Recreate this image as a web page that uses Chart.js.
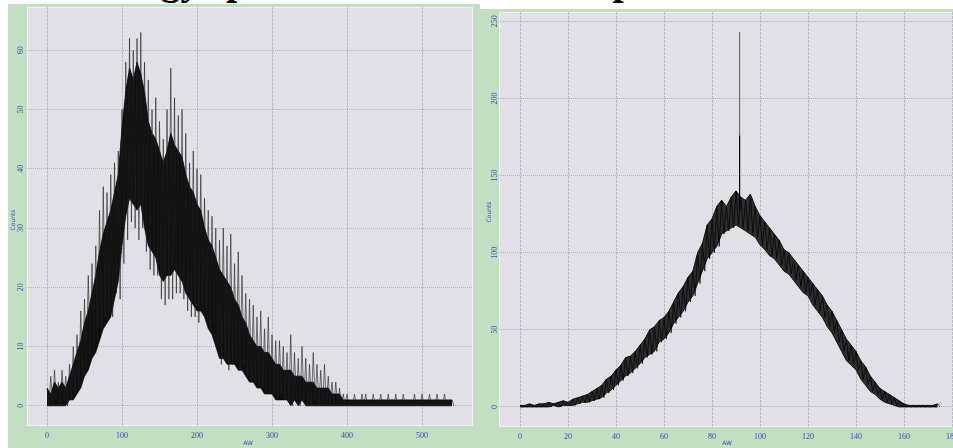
<!DOCTYPE html>
<html>
<head>
<meta charset="utf-8">
<script src="https://cdn.jsdelivr.net/npm/chart.js@4/dist/chart.umd.min.js"></script>
<style>
  html, body { margin: 0; padding: 0; background: #fff; }
  body { width: 953px; height: 448px; overflow: hidden; position: relative; }
  .title { position: absolute; top: -39px; font: bold 40px "Liberation Serif", serif; line-height: 40px; color: #000; white-space: nowrap; }
  .panel { position: absolute; background: #c3dec3; overflow: hidden; }
  #leftPanel { left: 8px; top: 4px; width: 472px; height: 444px; }
  #rightPanel { left: 480px; top: 9px; width: 473px; height: 439px; }
  canvas { position: absolute; left: 0; top: 0; }
</style>
</head>
<body>
<div class="title" style="left:76px">Energy spectrum</div>
<div class="title" style="left:597px">spectrum</div>
<div class="title" style="left:790px">Q</div>
<div class="panel" id="leftPanel"><canvas id="leftChart" width="472" height="444"></canvas></div>
<div class="panel" id="rightPanel"><canvas id="rightChart" width="505" height="439"></canvas></div>
<script>
// 左圖：每 5 AW 一格
const leftStep = 5;
// 尖峰的上緣 / 下緣 (灰色細線)
const leftHi = [3,5,6,4,6,5,7,10,12,16,18,22,24,27,33,37,36,39,41,43,
  50,58,62,60,62,63,58,55,50,52,48,45,50,57,52,49,50,46,41,43,
  40,39,35,33,32,30,28,30,27,29,24,26,22,19,18,17,15,16,13,15,
  12,11,11,10,9,12,9,8,10,8,7,9,7,6,7,5,4,4,3,2,
  2,1,2,1,2,2,1,2,1,2,1,2,1,2,1,2,1,1,2,1,
  2,1,2,1,2,1,2,1,1];
const leftLo = [0,0,1,0,1,0,1,2,3,5,7,8,10,11,13,15,16,15,19,18,
  24,28,31,30,28,30,26,23,22,22,18,17,18,18,19,19,18,16,15,15,
  14,17,16,13,14,10,7,8,6,7,8,6,7,5,4,4,3,3,2,2,
  2,1,2,1,1,0,1,0,1,0,0,1,0,0,0,0,0,0,0,0,
  0,0,0,0,0,0,0,0,0,0,0,0,0,0,0,0,0,0,0,0,
  0,0,0,0,0,0,0,0,0];
// 密集的黑色主體
const leftCoreHi = [3,2,4,3,4,3,5,7,9,11,14,16,19,22,26,29,31,33,36,39,
  47,53,57,55,58,56,53,48,46,45,43,41,43,46,44,43,42,39,37,36,
  34,33,30,28,27,25,23,22,21,20,18,17,15,14,12,11,10,10,9,9,
  8,7,7,6,6,6,5,5,5,4,4,4,3,3,3,3,2,2,2,1,
  1,1,1,1,1,1,1,1,1,1,1,1,1,1,1,1,1,1,1,1,
  1,1,1,1,1,1,1,1,1];
const leftCoreLo = [0,0,0,0,0,0,1,1,2,3,5,6,8,9,11,13,14,15,18,21,
  27,32,35,34,33,34,30,27,26,25,22,21,22,22,23,22,21,19,18,17,
  16,16,15,13,12,10,8,8,7,7,7,6,6,5,4,4,3,3,2,2,
  2,1,1,1,1,0,1,0,1,0,0,0,0,0,0,0,0,0,0,0,
  0,0,0,0,0,0,0,0,0,0,0,0,0,0,0,0,0,0,0,0,
  0,0,0,0,0,0,0,0,0];
const leftXTicks = [0, 100, 200, 300, 400, 500];
const leftYTicks = [0, 10, 20, 30, 40, 50, 60];

// 右圖：每 2 AW 一格
const rightStep = 2;
const rightHi = [1,1,2,1,2,2,3,2,3,4,3,5,6,7,8,10,12,14,18,20,
  24,27,32,33,36,40,44,50,52,56,58,62,68,74,78,84,88,100,106,118,
  122,130,134,130,136,140,136,134,138,130,124,120,116,112,108,102,100,96,92,88,
  84,80,76,72,66,62,56,50,44,40,36,30,26,20,16,12,10,8,6,4,
  2,1,1,1,1,1,1,2];
const rightLo = [0,0,0,0,0,0,0,1,0,1,1,1,2,3,3,4,5,6,9,11,
  14,17,20,22,25,28,32,34,36,42,44,48,54,58,62,68,72,80,88,96,
  100,104,112,114,116,118,116,114,112,110,105,102,98,96,92,88,86,82,78,74,
  72,66,62,58,52,48,42,36,30,27,24,18,14,10,8,5,3,2,1,0,
  0,0,0,0,0,0,0,0];
const rightSpikeAw = 91.5;
const rightSpikeCounts = [128, 176, 243]; // 底、黑色頂、灰色頂
const rightXTicks = [0, 20, 40, 60, 80, 100, 120, 140, 160, 180];
const rightYTicks = [0, 50, 100, 150, 200, 250];

const tickColor = '#3450a8';
const tickFamily = '"Liberation Serif", serif';

function zigzag(hi, lo, step) {
  const pts = [];
  hi.forEach((h, i) => {
    pts.push({ x: i * step, y: h });
    pts.push({ x: i * step + step / 2, y: lo[i] });
  });
  return pts;
}

function envelope(vals, step) {
  return vals.map((v, i) => ({ x: i * step, y: v }));
}

const panelPlugin = {
  id: 'panel',
  beforeDraw(chart) {
    const { ctx, chartArea: a } = chart;
    ctx.save();
    ctx.fillStyle = '#e0e0e6';
    ctx.fillRect(a.left, a.top, a.width, a.height);
    ctx.strokeStyle = '#f3f3f7';
    ctx.lineWidth = 1;
    ctx.strokeRect(a.left + 0.5, a.top + 0.5, a.width - 1, a.height - 1);
    ctx.restore();
  },
  afterDraw(chart, args, opts) {
    const { ctx } = chart;
    const y = chart.scales.y;
    ctx.save();
    ctx.fillStyle = tickColor;
    ctx.font = '8px ' + tickFamily;
    ctx.textAlign = 'center';
    ctx.textBaseline = 'middle';
    opts.yTicks.forEach(v => {
      ctx.save();
      ctx.translate(opts.labelX, y.getPixelForValue(v));
      ctx.rotate(-Math.PI / 2);
      ctx.fillText(String(v), 0, 0);
      ctx.restore();
    });
    ctx.font = '6px "DejaVu Sans", sans-serif';
    ctx.save();
    ctx.translate(opts.titleX, opts.titleY);
    ctx.rotate(-Math.PI / 2);
    ctx.fillText('Counts', 0, 0);
    ctx.restore();
    ctx.fillText('AW', opts.awX, opts.awY);
    ctx.restore();
  }
};

function makeChart(id, cfg) {
  return new Chart(document.getElementById(id).getContext('2d'), {
    type: 'line',
    data: { datasets: cfg.datasets },
    options: {
      responsive: false,
      animation: false,
      events: [],
      layout: { padding: { left: 0, top: 3, right: cfg.padRight, bottom: 0 } },
      plugins: { legend: { display: false }, tooltip: { enabled: false }, panel: cfg.panel },
      elements: { point: { radius: 0 }, line: { tension: 0 } },
      scales: {
        x: {
          type: 'linear', min: cfg.xMin, max: cfg.xMax,
          afterBuildTicks: s => { s.ticks = cfg.xTicks.map(v => ({ value: v })); },
          afterFit: s => { s.height = cfg.xHeight; },
          grid: { color: 'rgba(160,160,172,0.6)', lineWidth: 1, drawTicks: false },
          border: { display: false, dash: [3, 1] },
          ticks: { color: tickColor, font: { family: tickFamily, size: 8 }, padding: 5, maxRotation: 0, autoSkip: false }
        },
        y: {
          type: 'linear', min: cfg.yMin, max: cfg.yMax,
          afterBuildTicks: s => { s.ticks = cfg.yTicks.map(v => ({ value: v })); },
          afterFit: s => { s.width = 19; },
          grid: { color: 'rgba(160,160,172,0.7)', lineWidth: 1, drawTicks: false },
          border: { display: false, dash: [1, 1] },
          ticks: { display: false }
        }
      }
    },
    plugins: [panelPlugin]
  });
}

makeChart('leftChart', {
  xMin: -26.7, xMax: 568, yMin: -3.4, yMax: 67.3, padRight: 7, xHeight: 22,
  xTicks: leftXTicks, yTicks: leftYTicks,
  panel: { yTicks: leftYTicks, labelX: 13, titleX: 5, titleY: 216, awX: 240, awY: 439 },
  datasets: [
    { data: zigzag(leftHi, leftLo, leftStep), borderColor: 'rgba(30,30,30,0.6)', borderWidth: 1, fill: false },
    { data: envelope(leftCoreLo, leftStep), borderWidth: 1, borderColor: 'rgba(0,0,0,0.6)', fill: false },
    { data: envelope(leftCoreHi, leftStep), borderColor: 'rgba(0,0,0,0.8)', borderWidth: 1,
      fill: { target: '-1', above: 'rgba(0,0,0,0.93)', below: 'rgba(0,0,0,0.93)' } }
  ]
});

makeChart('rightChart', {
  xMin: -8.75, xMax: 190, yMin: -13, yMax: 256, padRight: 9, xHeight: 21,
  xTicks: rightXTicks, yTicks: rightYTicks,
  panel: { yTicks: rightYTicks, labelX: 14.5, titleX: 9, titleY: 203, awX: 247, awY: 434 },
  datasets: [
    { data: envelope(rightLo, rightStep), borderWidth: 1, borderColor: 'rgba(0,0,0,0.8)', fill: false },
    { data: envelope(rightHi, rightStep), borderColor: 'rgba(0,0,0,0.85)', borderWidth: 1,
      fill: { target: '-1', above: 'rgba(0,0,0,0.8)', below: 'rgba(0,0,0,0.8)' } },
    { data: zigzag(rightHi, rightLo, rightStep), borderColor: 'rgba(0,0,0,0.7)', borderWidth: 1, fill: false },
    { data: [{ x: rightSpikeAw, y: rightSpikeCounts[0] }, { x: rightSpikeAw, y: rightSpikeCounts[1] }],
      borderColor: '#000', borderWidth: 1.2, fill: false },
    { data: [{ x: rightSpikeAw, y: rightSpikeCounts[1] }, { x: rightSpikeAw, y: rightSpikeCounts[2] }],
      borderColor: 'rgba(0,0,0,0.5)', borderWidth: 1.2, fill: false }
  ]
});
</script>
</body>
</html>
